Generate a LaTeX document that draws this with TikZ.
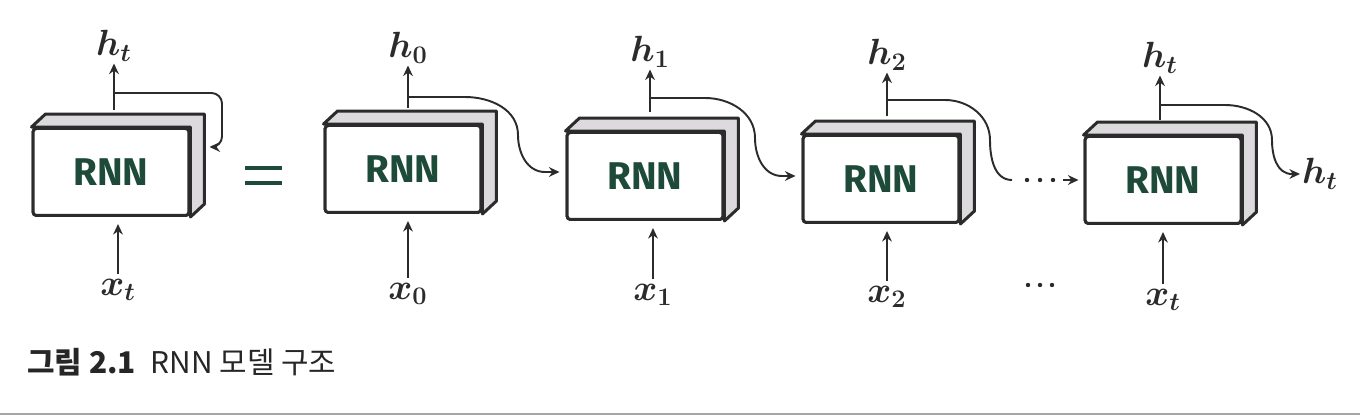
\documentclass[tikz,border=0pt]{standalone}
\usepackage{fontspec}
\newfontfamily\krfont{Noto Sans CJK KR}
\newfontfamily\rnnfont{Fira Sans}
\usetikzlibrary{arrows.meta}
\definecolor{ink}{HTML}{2B2B2B}
\definecolor{rnngreen}{HTML}{1E4A3A}
\definecolor{sidegray}{HTML}{DDDADD}
\begin{document}
\begin{tikzpicture}[x=0.02cm,y=-0.02cm,
  rnnbox/.style={draw=ink, line width=1.7pt, fill=white, rounded corners=2pt,
    minimum width=3.12cm, minimum height=1.74cm, inner sep=0pt,
    font=\rnnfont\bfseries\fontsize{22}{25}\selectfont, text=rnngreen},
  side/.style={draw=ink, line width=1.7pt, fill=sidegray, line join=round},
  arr/.style={draw=ink, line width=1.1pt, -{Stealth[length=6pt,width=5.5pt]}},
  lbl/.style={font=\boldmath\fontsize{21}{23}\selectfont, text=ink, inner sep=1pt},
  dot/.style={fill=ink}
]
\useasboundingbox (0,0) rectangle (1360,418);
\fill[white] (0,0) rectangle (1360,418);

% boxes
\foreach \n/\x/\y in {b0/111/172, b1/403/169, b2/645/176, b3/881/179, b4/1163/180}{
  \node[rnnbox] (\n) at (\x,\y) {RNN};
  \draw[side] (\n.north west) -- ([shift={(14,-13)}]\n.north west)
     -- ([shift={(14,-13)}]\n.north east) -- ([shift={(14,-13)}]\n.south east)
     -- (\n.south east) -- (\n.north east) -- cycle;
  \node[rnnbox] at (\x,\y) {RNN};
}

% top labels
\node[lbl] (ht0) at (114,46) {$h_t$};
\node[lbl] (h0) at (408,48) {$h_0$};
\node[lbl] (h1) at (650,52) {$h_1$};
\node[lbl] (h2) at (887,55) {$h_2$};
\node[lbl] (ht4) at (1160,58) {$h_t$};
\node[lbl, anchor=west] (hout) at (1300,174) {$h_t$};

% bottom labels
\node[lbl] (xt0) at (118,290) {$x_t$};
\node[lbl] (x0) at (408,294) {$x_0$};
\node[lbl] (x1) at (653,295) {$x_1$};
\node[lbl] (x2) at (887,297) {$x_2$};
\node[lbl] (xt4) at (1163,300) {$x_t$};

% up arrows
\draw[arr] (ht0.south |- 0,110) -- (ht0.south);
\draw[arr] (h0.south |- 0,108) -- (h0.south);
\draw[arr] (h1.south |- 0,112) -- (h1.south);
\draw[arr] (h2.south |- 0,116) -- (h2.south);
\draw[arr] (ht4.south |- 0,120) -- (ht4.south);

% input arrows
\foreach \l/\b in {xt0/b0, x0/b1, x1/b2, x2/b3, xt4/b4}{
  \draw[arr, shorten <=2pt] (\l.north) -- ([yshift=-4pt]\l.north |- \b.south);
}

% branch points
\coordinate (br0) at (114,93);
\coordinate (br1) at (408,97);
\coordinate (br2) at (650,98);
\coordinate (br3) at (887,100);
\coordinate (br4) at (1160,105);

% feedback loop
\draw[arr, rounded corners=6pt] (br0) -- (222,93) -- (222,147) -- ([shift={(19,-25)}]b0.east);

% chain
\draw[arr] (br1) -- (465,97) to[out=0,in=90] (518,135) to[out=-90,in=180] (545,172) -- ([shift={(-6,-4)}]b2.west);
\draw[arr] (br2) -- (705,98) to[out=0,in=90] (755,138) to[out=-90,in=180] (782,176) -- ([shift={(-6,-3)}]b3.west);
\draw[draw=ink, line width=1.1pt] (br3) -- (945,100) to[out=0,in=90] (990,140) to[out=-90,in=180] (1012,180);
\foreach \xx in {1027,1040,1053}{\fill[dot] (\xx,180) circle (2.2);}
\draw[arr] (1063,180) -- ([shift={(-5,0)}]b4.west);
\draw[arr] (br4) -- (1225,105) to[out=0,in=90] (1272,140) to[out=-90,in=180] (1292,174) -- (hout.west);

% bottom dots
\foreach \xx in {1028,1040,1052}{\fill[dot] (\xx,285) circle (2.2);}

% equals sign
\draw[rnngreen, line width=2.8pt] (245,168) -- (282,168) (245,183) -- (282,183);

% caption
\node[anchor=west, inner sep=0pt, font=\krfont\fontsize{17}{19}\selectfont, text=black!85] (cap) at (27,362) {{\bfseries 그림 2.1}\enspace RNN 모델 구조};

\draw[gray!70, line width=1.2pt] (0,414) -- (1360,414);
\end{tikzpicture}
\end{document}
